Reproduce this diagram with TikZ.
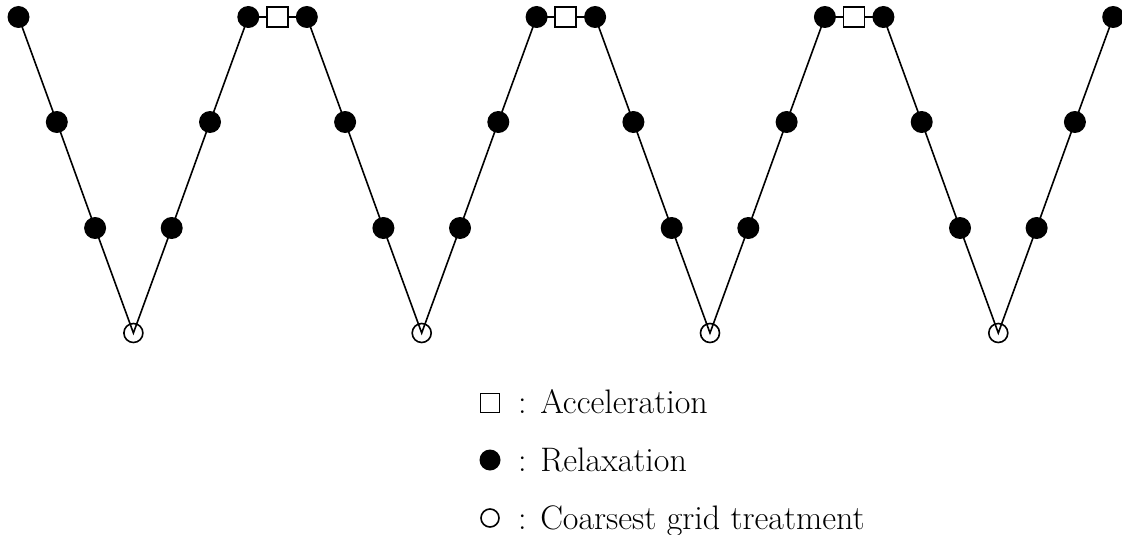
\documentclass[tikz,border=0pt]{standalone}
\usetikzlibrary{backgrounds}
\tikzset{
  relax/.style={circle, fill=black, inner sep=0pt, minimum size=22pt},
  coarse/.style={circle, draw, line width=1.6pt, inner sep=0pt, minimum size=19pt},
  accel/.style={rectangle, draw, fill=white, line width=1.6pt, inner sep=0pt, minimum width=21pt, minimum height=20pt},
  conn/.style={line width=1.6pt},
  legtext/.style={anchor=base west, inner sep=0pt, font=\fontsize{34}{40}\selectfont},
}
\begin{document}
\begin{tikzpicture}[x=1pt, y=-1pt]
\useasboundingbox (0,0) rectangle (1122,535);
% V-cycles
\foreach \k/\xo in {0/0, 1/288.3, 2/576.6, 3/864.9} {
  \node[relax] (t\k) at (18.5+\xo,17) {};
  \node[relax] (a\k) at (56.8+\xo,122) {};
  \node[relax] (b\k) at (95.1+\xo,228) {};
  \node[coarse] (c\k) at (133.4+\xo,333) {};
  \node[relax] (d\k) at (171.7+\xo,228) {};
  \node[relax] (e\k) at (210+\xo,122) {};
  \node[relax] (f\k) at (248.3+\xo,17) {};
}
\foreach \k in {0,1,2} {
  \node[accel] (s\k) at (277.4+288.3*\k,17) {};
}
\begin{scope}[on background layer]
\foreach \k in {0,1,2,3} {
  \draw[conn] (t\k.center) -- (a\k.center) -- (b\k.center) -- (c\k.center) -- (d\k.center) -- (e\k.center) -- (f\k.center);
}
\draw[conn] (f0.center) -- (t1.center);
\draw[conn] (f1.center) -- (t2.center);
\draw[conn] (f2.center) -- (t3.center);
\end{scope}
% legend
\node[accel, minimum width=19pt, minimum height=19pt] (la) at (490,403) {};
\node[relax, minimum size=21pt] (lr) at (490,460) {};
\node[coarse, minimum size=18pt] (lc) at (490,518) {};
\node[legtext] (ta) at (518,413) {:\hspace{0.4em}Acceleration};
\node[legtext] (tr) at (518,471) {:\hspace{0.4em}Relaxation};
\node[legtext] (tc) at (518,529) {:\hspace{0.4em}Coarsest grid treatment};
\end{tikzpicture}
\end{document}
